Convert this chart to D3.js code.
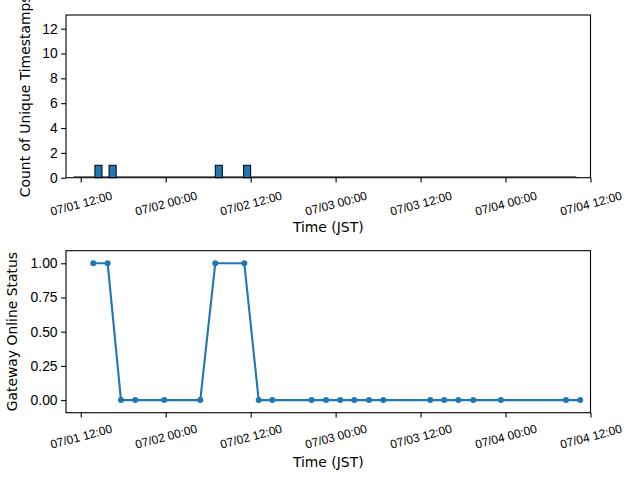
<!DOCTYPE html>
<html>
<head>
<meta charset="utf-8">
<script src="https://cdn.jsdelivr.net/npm/d3@7"></script>
<style>
  body { margin: 0; background: #fff; }
  svg { font-family: "DejaVu Sans", sans-serif; }
</style>
</head>
<body>
<div id="chart"></div>
<script>
// histogram bins (1 hour wide) that hold a timestamp
const barStarts = ["2024-07-01 14:00", "2024-07-01 16:00", "2024-07-02 07:00", "2024-07-02 11:00"];
const barCounts = [1, 1, 1, 1];
// span covered by the empty bins (drawn as a flat line)
const histSpan = ["2024-07-01 11:00", "2024-07-04 10:00"];

// gateway status samples
const statusTimes = [
  "2024-07-01 13:46", "2024-07-01 15:48", "2024-07-01 17:41", "2024-07-01 19:42",
  "2024-07-01 23:48", "2024-07-02 04:53", "2024-07-02 07:00", "2024-07-02 11:06",
  "2024-07-02 13:08", "2024-07-02 15:03", "2024-07-02 20:36", "2024-07-02 22:39",
  "2024-07-03 00:39", "2024-07-03 02:38", "2024-07-03 04:43", "2024-07-03 06:44",
  "2024-07-03 13:22", "2024-07-03 15:21", "2024-07-03 17:20", "2024-07-03 19:27",
  "2024-07-03 23:21", "2024-07-04 08:32", "2024-07-04 10:33"
];
const statusValues = [1, 1, 0, 0, 0, 0, 1, 1, 0, 0, 0, 0, 0, 0, 0, 0, 0, 0, 0, 0, 0, 0, 0];

const xTicks = ["2024-07-01 12:00", "2024-07-02 00:00", "2024-07-02 12:00", "2024-07-03 00:00",
                "2024-07-03 12:00", "2024-07-04 00:00", "2024-07-04 12:00"];
const xDomain = ["2024-07-01 09:55", "2024-07-04 12:00"];
const countTicks = [0, 2, 4, 6, 8, 10, 12];
const statusTicks = [0, 0.25, 0.5, 0.75, 1];

const parse = d3.utcParse("%Y-%m-%d %H:%M");
const fmt = d3.utcFormat("%m/%d %H:%M");
const blue = "#1f77b4";

const svg = d3.select("#chart").append("svg")
  .attr("width", 640)
  .attr("height", 480);

const left = 66, right = 590.5;

// --- top panel ---
const x1 = d3.scaleUtc().domain(xDomain.map(parse)).range([left, right]);
const y1 = d3.scaleLinear().domain([0, 13.1]).range([177.7, 15]);

// --- bottom panel ---
const x2 = d3.scaleUtc().domain(xDomain.map(parse)).range([left, right]);
const y2 = d3.scaleLinear().domain([-0.092, 1.092]).range([412.7, 250.7]);

function drawAxes(x, y, yTicks, yFmt, yLabel, yLabelX, tickDrop) {
  const [yb, yt] = y.range();
  const g = svg.append("g");

  // x axis
  const xa = g.append("g")
    .attr("transform", `translate(0,${yb})`)
    .call(d3.axisBottom(x).tickValues(xTicks.map(parse)).tickFormat(fmt).tickSize(4.9).tickPadding(0));
  xa.select(".domain").remove();
  xa.selectAll(".tick line").attr("stroke", "#000").attr("stroke-width", 1.1);
  xa.selectAll(".tick text")
    .attr("font-size", "12px")
    .attr("fill", "#000")
    .attr("text-anchor", "middle")
    .attr("dy", null)
    .attr("y", null)
    .attr("dominant-baseline", "central")
    .attr("transform", `translate(0,${tickDrop}) rotate(-15)`);

  // y axis
  const ya = g.append("g")
    .attr("transform", `translate(${left},0)`)
    .call(d3.axisLeft(y).tickValues(yTicks).tickFormat(yFmt).tickSize(4.9).tickPadding(3.5));
  ya.select(".domain").remove();
  ya.selectAll(".tick line").attr("stroke", "#000").attr("stroke-width", 1.1);
  ya.selectAll(".tick text").attr("font-size", "13.9px").attr("fill", "#000");

  // frame
  g.append("rect")
    .attr("x", left).attr("y", yt)
    .attr("width", right - left).attr("height", yb - yt)
    .attr("fill", "none").attr("stroke", "#000").attr("stroke-width", 1.1);

  // labels
  g.append("text")
    .attr("x", (left + right) / 2).attr("y", yb + 54)
    .attr("text-anchor", "middle")
    .attr("font-size", "13.9px")
    .text("Time (JST)");

  g.append("text")
    .attr("transform", `translate(${yLabelX},${(yt + yb) / 2}) rotate(-90)`)
    .attr("text-anchor", "middle")
    .attr("font-size", "13.9px")
    .text(yLabel);
}

// empty bins
svg.append("line")
  .attr("x1", x1(parse(histSpan[0]))).attr("x2", x1(parse(histSpan[1])))
  .attr("y1", y1(0) - 1).attr("y2", y1(0) - 1)
  .attr("stroke", "#555").attr("stroke-width", 1);

// bars
svg.append("g")
  .selectAll("rect")
  .data(barStarts.map((s, i) => ({ t: parse(s), c: barCounts[i] })))
  .join("rect")
    .attr("x", d => x1(d.t))
    .attr("width", d => x1(d3.utcHour.offset(d.t, 1)) - x1(d.t))
    .attr("y", d => y1(d.c))
    .attr("height", d => y1(0) - y1(d.c))
    .attr("fill", blue)
    .attr("stroke", "#000")
    .attr("stroke-width", 1);

drawAxes(x1, y1, countTicks, d3.format("d"), "Count of Unique Timestamps", 30, 26);

// status line
const pts = statusTimes.map((s, i) => ({ t: parse(s), v: statusValues[i] }));
svg.append("path")
  .datum(pts)
  .attr("fill", "none")
  .attr("stroke", blue)
  .attr("stroke-width", 2.1)
  .attr("d", d3.line().x(d => x2(d.t)).y(d => y2(d.v)));

svg.append("g")
  .selectAll("circle")
  .data(pts)
  .join("circle")
    .attr("cx", d => x2(d.t))
    .attr("cy", d => y2(d.v))
    .attr("r", 3)
    .attr("fill", blue);

drawAxes(x2, y2, statusTicks, d3.format(".2f"), "Gateway Online Status", 17, 24);
</script>
</body>
</html>
